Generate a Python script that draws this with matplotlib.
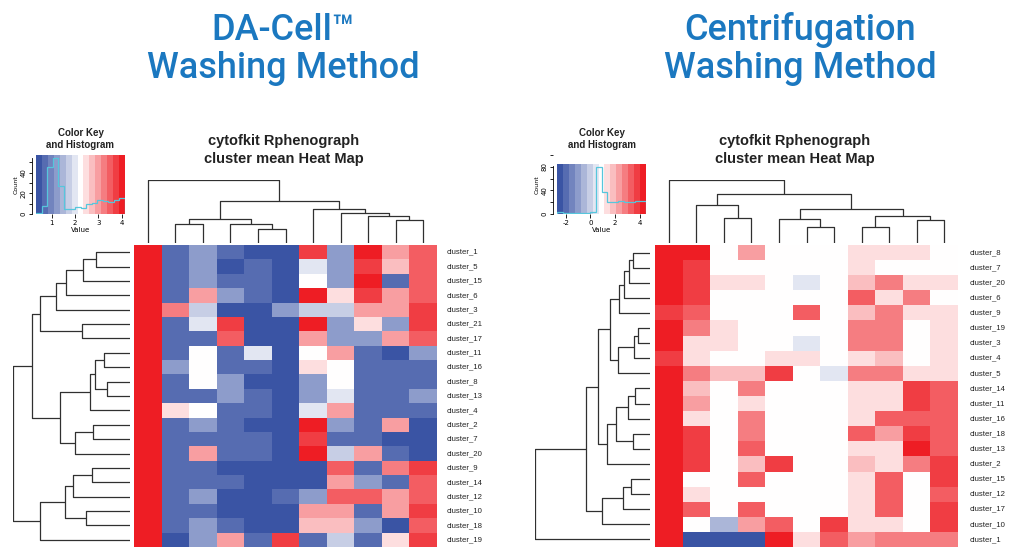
import numpy as np
import matplotlib
matplotlib.use("Agg")
import matplotlib.pyplot as plt
from matplotlib.colors import LinearSegmentedColormap, BoundaryNorm
from matplotlib.transforms import blended_transform_factory

plt.rcParams["axes.unicode_minus"] = False
W, H = 1024, 560

# ---------------- data: left panel (DA-Cell) ----------------
left_rows = ["cluster_1", "cluster_5", "cluster_15", "cluster_6", "cluster_3", "cluster_21",
             "cluster_17", "cluster_11", "cluster_16", "cluster_8", "cluster_13", "cluster_4",
             "cluster_2", "cluster_7", "cluster_20", "cluster_9", "cluster_14", "cluster_12",
             "cluster_10", "cluster_18", "cluster_19"]
left_values = [
    [4.05, 0.7, 1.2, 0.8, 0.5, 0.5, 3.8, 1.2, 4.0, 3.0, 3.45],
    [4.05, 0.7, 1.2, 0.45, 0.8, 0.5, 2.0, 1.2, 3.8, 2.8, 3.45],
    [4.05, 0.7, 1.2, 0.8, 0.8, 0.5, 2.25, 1.2, 4.0, 0.7, 3.45],
    [4.05, 0.8, 3.0, 1.15, 0.8, 0.5, 4.0, 2.6, 3.8, 3.1, 3.45],
    [4.05, 3.35, 1.6, 0.5, 0.5, 1.15, 1.6, 1.6, 2.9, 2.9, 3.8],
    [4.05, 0.8, 2.0, 3.8, 0.5, 0.45, 4.0, 1.15, 2.6, 1.15, 3.8],
    [4.05, 0.6, 0.8, 3.45, 0.5, 0.45, 2.9, 1.15, 1.15, 3.1, 3.45],
    [4.0, 0.8, 2.25, 0.8, 2.0, 0.5, 2.3, 2.9, 0.7, 0.45, 1.15],
    [4.05, 1.2, 2.25, 0.8, 0.8, 0.5, 2.6, 2.25, 0.7, 0.7, 0.7],
    [4.05, 0.8, 2.25, 1.2, 0.45, 0.5, 1.2, 2.25, 0.7, 0.7, 0.7],
    [4.0, 0.8, 0.8, 1.2, 0.8, 0.5, 1.2, 2.0, 0.7, 0.7, 1.2],
    [4.05, 2.6, 2.25, 0.8, 0.8, 0.5, 2.0, 3.1, 0.7, 0.7, 0.8],
    [4.05, 0.6, 1.2, 0.8, 0.5, 0.5, 4.0, 1.2, 0.7, 3.0, 0.5],
    [4.0, 0.6, 0.8, 0.8, 0.8, 0.5, 3.8, 0.8, 0.8, 0.5, 0.5],
    [4.05, 0.6, 3.0, 0.8, 0.8, 0.5, 4.05, 1.6, 3.0, 0.6, 0.45],
    [4.0, 0.6, 0.8, 0.5, 0.45, 0.5, 0.5, 3.45, 0.7, 3.2, 3.8],
    [4.0, 0.6, 0.8, 0.8, 0.45, 0.5, 0.5, 3.1, 1.15, 0.7, 3.45],
    [4.05, 0.8, 1.2, 0.5, 0.45, 0.8, 1.2, 3.45, 3.45, 3.1, 3.45],
    [4.0, 0.6, 0.8, 0.5, 0.45, 0.5, 3.1, 3.1, 0.7, 3.1, 3.8],
    [4.05, 0.6, 1.2, 0.7, 0.5, 0.5, 2.8, 2.8, 1.15, 0.45, 3.45],
    [4.05, 0.45, 1.2, 3.1, 0.7, 3.8, 0.7, 1.6, 0.7, 2.6, 3.8],
]
# dendrograms: (left, right, height); leaves are display positions
left_row_tree = (
    ((((((0, 1, 103), 2, 142), 3, 192), 4, 222), (5, 6, 145), 270),
     ((((7, 8, 77), (9, 10, 70), 105), 11, 120), ((12, 13, 110), 14, 165), 210), 292),
    ((((15, 16, 115), 17, 170), (18, 19, 132), 193), 20, 268),
    350)
left_col_tree = (0, (((1, 2, 58), (3, (4, 5, 43), 58), 72),
                     (6, (7, (8, (9, 10, 70), 80), 90), 103), 127), 190)
left_range = (0.33, 4.14)
left_hist = [1, 8, 45, 54, 27, 5, 5, 7, 6, 10, 11, 14, 13, 12, 14, 15]
left_xticks = [1, 2, 3, 4]
left_yticks = [0, 20, 40]
left_ymax = 57

# ---------------- data: right panel (Centrifugation) ----------------
right_rows = ["cluster_8", "cluster_7", "cluster_20", "cluster_6", "cluster_9", "cluster_19",
              "cluster_3", "cluster_4", "cluster_5", "cluster_14", "cluster_11", "cluster_16",
              "cluster_18", "cluster_13", "cluster_2", "cluster_15", "cluster_12", "cluster_17",
              "cluster_10", "cluster_1"]
right_values = [
    [4.4, 4.4, 0.9, 2.5, 0.9, 0.9, 0.9, 1.6, 1.6, 1.6, 0.9],
    [4.4, 3.8, 0.9, 0.9, 0.9, 0.9, 0.9, 1.6, 0.9, 0.9, 0.9],
    [4.4, 3.8, 1.6, 1.6, 0.9, 0.35, 0.9, 2.1, 2.6, 1.6, 1.6],
    [4.4, 3.8, 0.9, 0.9, 0.9, 0.9, 0.9, 3.2, 1.6, 2.6, 0.9],
    [3.8, 3.4, 0.9, 0.9, 0.9, 3.4, 0.9, 2.1, 2.6, 1.6, 1.6],
    [4.4, 2.6, 1.6, 0.9, 0.9, 0.9, 0.9, 2.6, 2.6, 0.9, 1.6],
    [4.4, 1.6, 1.6, 0.9, 0.9, 0.35, 0.9, 2.6, 2.6, 0.9, 1.6],
    [3.8, 1.6, 0.9, 0.9, 1.6, 1.6, 0.9, 1.6, 2.1, 0.9, 1.6],
    [4.4, 2.6, 2.0, 2.0, 3.8, 0.9, 0.35, 2.6, 2.6, 1.6, 1.6],
    [4.4, 2.1, 0.9, 2.6, 0.9, 0.9, 0.9, 1.6, 1.6, 3.8, 3.3],
    [4.4, 2.5, 0.9, 1.6, 0.9, 0.9, 0.9, 1.6, 1.6, 3.7, 3.3],
    [4.4, 1.6, 0.9, 2.6, 0.9, 0.9, 0.9, 1.6, 3.3, 3.3, 3.3],
    [4.4, 4.0, 0.9, 2.6, 0.9, 0.9, 0.9, 3.3, 2.3, 3.8, 3.3],
    [4.4, 3.7, 0.9, 3.3, 0.9, 0.9, 0.9, 1.6, 1.6, 4.4, 3.3],
    [4.4, 3.7, 0.9, 2.1, 3.8, 0.9, 0.9, 2.1, 1.6, 2.6, 3.7],
    [4.4, 0.9, 0.9, 3.3, 0.9, 0.9, 0.9, 1.6, 3.3, 0.9, 3.7],
    [4.4, 1.6, 0.9, 0.9, 0.9, 0.9, 0.9, 1.6, 3.3, 0.9, 3.1],
    [4.4, 3.3, 0.9, 3.3, 0.9, 0.9, 0.9, 1.6, 3.3, 0.9, 3.7],
    [4.4, 0.9, -0.7, 2.5, 3.3, 0.9, 3.7, 1.6, 1.6, 0.9, 3.7],
    [4.4, -2.5, -2.5, -2.5, 4.4, 1.6, 3.3, 2.3, 2.6, 2.6, 2.6],
]
right_rows_top = ((((0, 1, 50), 2, 63), 3, 78), 4, 92)
right_rows_mid = (((5, 6, 35), 7, 47), 8, 97)
right_rows_low = ((((9, 10, 45), 11, 67), (12, 13, 52), 103), 14, 130)
right_rows_bot = (((15, 16, 57), 17, 82), 18, 145)
right_row_tree = (((((right_rows_top, right_rows_mid, 120), right_rows_low, 155),
                    right_rows_bot, 193), 19, 345))
right_col_tree = (0, ((1, (2, 3, 75), 115),
                      ((4, (5, 6, 48), 73), ((7, 8, 48), (9, 10, 69), 80), 103), 147), 190)
right_range = (-2.7, 4.5)
right_hist = [3, 2, 2, 2, 2, 2, 3, 80, 38, 21, 20, 22, 20, 20, 22, 22]
right_xticks = [-2, 0, 2, 4]
right_yticks = [0, 40, 80]
right_ymax = 85

TITLE_BLUE = "#1b78c0"
LINE = "#303030"
cmap_base = LinearSegmentedColormap.from_list("br", ["#3a54a4", "#ffffff", "#ee1d24"])
NBANDS = 15  # odd, so the middle band is white


def px_axes(fig, x0, y0, x1, y1):
    return fig.add_axes([x0 / W, 1 - y1 / H, (x1 - x0) / W, (y1 - y0) / H])


def draw_tree(ax, node, orient):
    if isinstance(node, int):
        return node, 0
    l, r, h = node
    pl, hl = draw_tree(ax, l, orient)
    pr, hr = draw_tree(ax, r, orient)
    if orient == "top":
        ax.plot([pl, pl, pr, pr], [hl, h, h, hr], color=LINE, lw=0.9, solid_capstyle="butt")
    else:
        ax.plot([hl, h, h, hr], [pl, pl, pr, pr], color=LINE, lw=0.9, solid_capstyle="butt")
    return (pl + pr) / 2, h


def panel(fig, rows, values, row_tree, col_tree, vrange, hist, xticks, yticks, ymax,
          rowdend_x0, rowdend_x1, hm_x0, hm_x1, key_x0, key_x1, label_gap, title_x):
    vals = np.array(values)
    nrow, ncol = vals.shape
    lo, hi = vrange
    bounds = np.linspace(lo, hi, NBANDS + 1)
    cmap = LinearSegmentedColormap.from_list("k", [cmap_base(i / (NBANDS - 1)) for i in range(NBANDS)], N=NBANDS)
    norm = BoundaryNorm(bounds, NBANDS, clip=True)

    # heatmap
    ax = px_axes(fig, hm_x0, 245, hm_x1, 547)
    ax.pcolormesh(np.arange(ncol + 1) - 0.5, np.arange(nrow + 1) - 0.5, vals, cmap=cmap, norm=norm)
    ax.set_xlim(-0.5, ncol - 0.5); ax.set_ylim(nrow - 0.5, -0.5); ax.axis("off")
    tr = blended_transform_factory(ax.transAxes, ax.transData)
    for i, lab in enumerate(rows):
        ax.text(1 + label_gap / (hm_x1 - hm_x0), i, lab, transform=tr, ha="left", va="center",
                fontsize=5.6, family="Liberation Sans", color="#222222")

    # row dendrogram
    axr = px_axes(fig, rowdend_x0, 245, rowdend_x1, 547)
    draw_tree(axr, row_tree, "left")
    axr.set_xlim(row_tree[2], 0); axr.set_ylim(nrow - 0.5, -0.5); axr.axis("off")

    # column dendrogram
    axc = px_axes(fig, hm_x0, 180, hm_x1, 243)
    draw_tree(axc, col_tree, "top")
    axc.set_xlim(-0.5, ncol - 0.5); axc.set_ylim(0, col_tree[2]); axc.axis("off")

    # color key + histogram
    axk = px_axes(fig, key_x0, 155, key_x1, 214)
    axk.pcolormesh(bounds, [0, ymax], ((bounds[:-1] + bounds[1:]) / 2)[None, :], cmap=cmap, norm=norm)
    hist_edges = np.linspace(lo, hi, len(hist) + 1)
    axk.stairs(hist, hist_edges, color="#56c6dc", lw=0.9)
    axk.set_xlim(lo, hi); axk.set_ylim(0, ymax)
    for s in ("top", "right", "bottom"):
        axk.spines[s].set_visible(False)
    axk.spines["left"].set_position(("outward", 3))
    axk.spines["left"].set_linewidth(0.6)
    axk.spines["left"].set_bounds(yticks[0], ymax * 0.95)
    axk.set_xticks(xticks)
    axk.set_yticks(yticks)
    axk.set_yticks([(a + b) / 2 for a, b in zip(yticks[:-1], yticks[1:])] + [yticks[-1] + (yticks[1] - yticks[0]) / 2], minor=True)
    axk.tick_params(axis="both", labelsize=5, length=2.5, width=0.6, pad=1)
    axk.tick_params(axis="y", which="minor", length=2, width=0.6)
    axk.tick_params(axis="x", length=3)
    for t in axk.get_yticklabels():
        t.set_rotation(90); t.set_va("center")
    axk.set_xlabel("Value", fontsize=5, labelpad=1)
    axk.set_ylabel("Count", fontsize=4.5, labelpad=2)
    fig.text((key_x0 + key_x1) / 2 / W, 1 - 133 / H, "Color Key", ha="center", va="center",
             fontsize=7, fontweight="bold", family="Liberation Sans", color="#222222")
    fig.text((key_x0 + key_x1) / 2 / W, 1 - 145 / H, "and Histogram", ha="center", va="center",
             fontsize=7, fontweight="bold", family="Liberation Sans", color="#222222")

    # heatmap title
    fig.text(title_x / W, 1 - 141 / H, "cytofkit Rphenograph", ha="center", va="center",
             fontsize=10.5, fontweight="bold", family="Liberation Sans", color="#222222")
    fig.text(title_x / W, 1 - 159 / H, "cluster mean Heat Map", ha="center", va="center",
             fontsize=10.5, fontweight="bold", family="Liberation Sans", color="#222222")


fig = plt.figure(figsize=(W / 100, H / 100), dpi=100)
fig.patch.set_facecolor("white")

panel(fig, left_rows, left_values, left_row_tree, left_col_tree, left_range, left_hist,
      left_xticks, left_yticks, left_ymax,
      rowdend_x0=13, rowdend_x1=130, hm_x0=134, hm_x1=437, key_x0=36, key_x1=125,
      label_gap=10, title_x=284)
panel(fig, right_rows, right_values, right_row_tree, right_col_tree, right_range, right_hist,
      right_xticks, right_yticks, right_ymax,
      rowdend_x0=535, rowdend_x1=650, hm_x0=655, hm_x1=958, key_x0=557, key_x1=646,
      label_gap=12, title_x=795)

# big panel headings
for x, l1, l2 in [(283, "DA-Cell\u2122", "Washing Method"), (800, "Centrifugation", "Washing Method")]:
    fig.text(x / W, 1 - 40 / H, l1, ha="center", va="baseline", fontsize=26, fontweight="medium",
             family="Roboto", color=TITLE_BLUE)
    fig.text(x / W, 1 - 78 / H, l2, ha="center", va="baseline", fontsize=26, fontweight="medium",
             family="Roboto", color=TITLE_BLUE)

fig.savefig("out.png", dpi=100, facecolor="white")
